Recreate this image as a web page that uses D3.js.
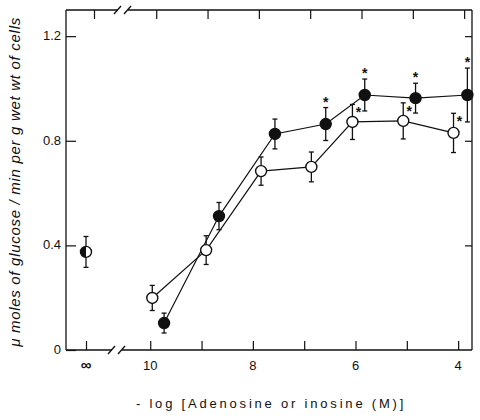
<!doctype html>
<html>
<head>
  <meta charset="utf-8">
  <title>Glucose output vs adenosine / inosine</title>
  <style>
    html, body { margin: 0; padding: 0; background: #fff; }
    svg text { font-family: "Liberation Sans", Arial, sans-serif; fill: #111; }
  </style>
</head>
<body>
  <script src="https://d3js.org/d3.v7.min.js"></script>
  <script>
    // values (x = -log[M], y = umol glucose/min/g)
    var openX = [9.96, 8.91, 7.84, 6.86, 6.06, 5.07, 4.09];
    var openY = [0.199, 0.382, 0.684, 0.70, 0.872, 0.876, 0.830];
    var openErr = [0.048, 0.055, 0.054, 0.057, 0.067, 0.069, 0.075];
    var openStar = [false, false, false, false, true, true, true];

    var filledX = [9.73, 8.66, 7.57, 6.58, 5.82, 4.83, 3.82];
    var filledY = [0.103, 0.512, 0.826, 0.864, 0.975, 0.963, 0.975];
    var filledErr = [0.038, 0.052, 0.057, 0.063, 0.061, 0.057, 0.103];
    var filledStar = [false, false, false, true, true, true, true];

    // control (no nucleoside) point
    var ctrlCat = ["∞"];
    var ctrlY = [0.375];
    var ctrlErr = [0.059];

    var xTicks = [10, 9, 8, 7, 6, 5, 4];
    var xTickLabels = ["10", "", "8", "", "6", "", "4"];
    var yTicks = [0, 0.4, 0.8, 1.2];
    var yTickLabels = ["0", "0.4", "0.8", "1.2"];

    var W = 480, H = 420;
    var mLeft = 66, mRight = 472, mTop = 10, mBottom = 350;
    var breakL = 112, breakR = 122;

    var svg = d3.select('body').append('svg')
      .attr('width', W).attr('height', H);

    var y = d3.scaleLinear().domain([0, 1.3]).range([mBottom, mTop]);
    var x = d3.scaleLinear().domain([10.55, 3.73]).range([breakR, mRight]);
    var xInf = d3.scalePoint().domain(ctrlCat).range([mLeft, mLeft + 40]).padding(0.5);

    var ink = '#111';

    // frame with axis breaks
    var frame = svg.append('g').attr('stroke', ink).attr('stroke-width', 1.3).attr('fill', 'none');
    [mBottom, mTop].forEach(function(yy) {
      var bx = (yy == mTop ? 6 : 0);
      frame.append('line').attr('x1', mLeft).attr('x2', breakL + bx).attr('y1', yy).attr('y2', yy);
      frame.append('line').attr('x1', breakR + bx).attr('x2', mRight).attr('y1', yy).attr('y2', yy);
      [breakL + bx, breakR + bx].forEach(function(b) {
        frame.append('line').attr('x1', b - 4).attr('x2', b + 3).attr('y1', yy + 4).attr('y2', yy - 4);
      });
    });
    frame.append('line').attr('x1', mLeft).attr('x2', mLeft).attr('y1', mTop).attr('y2', mBottom);
    frame.append('line').attr('x1', mRight).attr('x2', mRight).attr('y1', mTop).attr('y2', mBottom);

    // y axis
    var yAxis = d3.axisRight(y).tickValues(yTicks).tickSize(10).tickFormat('');
    var gy = svg.append('g').attr('transform', 'translate(' + mLeft + ',0)').call(yAxis);
    gy.select('.domain').remove();
    gy.selectAll('line').attr('stroke', ink).attr('stroke-width', 1.2);
    svg.append('g').selectAll('text').data(yTicks).join('text')
      .attr('x', mLeft - 5).attr('y', function(d) { return y(d) + 4; })
      .attr('text-anchor', 'end').attr('font-size', 13)
      .text(function(d, i) { return yTickLabels[i]; });

    var yAxisR = d3.axisLeft(y).tickValues(yTicks.slice(1)).tickSize(7).tickFormat('');
    var gyr = svg.append('g').attr('transform', 'translate(' + mRight + ',0)').call(yAxisR);
    gyr.select('.domain').remove();
    gyr.selectAll('line').attr('stroke', ink).attr('stroke-width', 1.2);

    // x axis, bottom and top ticks pointing in
    var xAxisB = d3.axisTop(x).tickValues(xTicks).tickSize(9).tickFormat('');
    var gxb = svg.append('g').attr('transform', 'translate(0,' + mBottom + ')').call(xAxisB);
    var xAxisT = d3.axisBottom(x).tickValues(xTicks).tickSize(9).tickFormat('');
    var gxt = svg.append('g').attr('transform', 'translate(6,' + mTop + ')').call(xAxisT);
    var infB = d3.axisTop(xInf).tickSize(9).tickFormat('');
    var gib = svg.append('g').attr('transform', 'translate(0,' + mBottom + ')').call(infB);
    var infT = d3.axisBottom(xInf).tickSize(9).tickFormat('');
    var git = svg.append('g').attr('transform', 'translate(8,' + mTop + ')').call(infT);
    [gxb, gxt, gib, git].forEach(function(g) {
      g.select('.domain').remove();
      g.selectAll('line').attr('stroke', ink).attr('stroke-width', 1.2);
    });

    svg.append('g').selectAll('text').data(xTicks).join('text')
      .attr('x', function(d) { return x(d); }).attr('y', mBottom + 20)
      .attr('text-anchor', 'middle').attr('font-size', 13)
      .text(function(d, i) { return xTickLabels[i]; });
    svg.append('text').attr('x', xInf(ctrlCat[0])).attr('y', mBottom + 20)
      .attr('text-anchor', 'middle').attr('font-size', 15).attr('font-weight', 'bold')
      .text(ctrlCat[0]);

    // axis titles
    svg.append('text')
      .attr('transform', 'translate(20,' + 182 + ') rotate(-90)')
      .attr('text-anchor', 'middle').attr('font-size', 15).attr('font-style', 'italic')
      .attr('letter-spacing', 0.7)
      .text('μ moles of glucose / min per g wet wt of cells');
    svg.append('text')
      .attr('x', 271).attr('y', 408).attr('text-anchor', 'middle')
      .attr('font-size', 13).attr('letter-spacing', 2.8)
      .text('- log  [Adenosine or inosine (M)]');

    function rows(xs, ys, es, st) {
      return xs.map(function(v, i) { return { x: v, y: ys[i], e: es[i], star: st[i] }; });
    }
    var openData = rows(openX, openY, openErr, openStar);
    var filledData = rows(filledX, filledY, filledErr, filledStar);

    var line = d3.line().x(function(d) { return x(d.x); }).y(function(d) { return y(d.y); });
    [openData, filledData].forEach(function(data) {
      svg.append('path').datum(data).attr('d', line)
        .attr('fill', 'none').attr('stroke', ink).attr('stroke-width', 1.2);
    });

    function errorBars(data, px) {
      var g = svg.append('g').attr('stroke', ink).attr('stroke-width', 1.3);
      data.forEach(function(d) {
        var cx = px(d), y0 = y(d.y - d.e), y1 = y(d.y + d.e);
        g.append('line').attr('x1', cx).attr('x2', cx).attr('y1', y0).attr('y2', y1);
        g.append('line').attr('x1', cx - 2.5).attr('x2', cx + 2.5).attr('y1', y0).attr('y2', y0);
        g.append('line').attr('x1', cx - 2.5).attr('x2', cx + 2.5).attr('y1', y1).attr('y2', y1);
      });
    }
    var pxLin = function(d) { return x(d.x); };
    errorBars(openData, pxLin);
    errorBars(filledData, pxLin);

    var ctrlData = [{ c: ctrlCat[0], y: ctrlY[0], e: ctrlErr[0] }];
    errorBars(ctrlData, function(d) { return xInf(d.c); });

    svg.append('g').selectAll('circle').data(openData).join('circle')
      .attr('cx', pxLin).attr('cy', function(d) { return y(d.y); }).attr('r', 5.5)
      .attr('fill', '#fff').attr('stroke', ink).attr('stroke-width', 1.4);
    svg.append('g').selectAll('circle').data(filledData).join('circle')
      .attr('cx', pxLin).attr('cy', function(d) { return y(d.y); }).attr('r', 5.5)
      .attr('fill', ink).attr('stroke', ink).attr('stroke-width', 1.4);

    // control point: half filled circle
    ctrlData.forEach(function(d) {
      var cx = xInf(d.c), cy = y(d.y);
      svg.append('circle').attr('cx', cx).attr('cy', cy).attr('r', 5.5)
        .attr('fill', '#fff').attr('stroke', ink).attr('stroke-width', 1.4);
      svg.append('path')
        .attr('d', d3.arc()({ innerRadius: 0, outerRadius: 5.5, startAngle: Math.PI, endAngle: 2 * Math.PI }))
        .attr('transform', 'translate(' + cx + ',' + cy + ')').attr('fill', ink);
    });

    // significance stars
    svg.append('g').selectAll('text').data(filledData.filter(function(d) { return d.star; })).join('text')
      .attr('x', pxLin).attr('y', function(d) { return y(d.y + d.e) - 1; })
      .attr('text-anchor', 'middle').attr('font-size', 14).attr('font-weight', 'bold')
      .text('*');
    svg.append('g').selectAll('text').data(openData.filter(function(d) { return d.star; })).join('text')
      .attr('x', function(d) { return x(d.x) + 6; }).attr('y', function(d) { return y(d.y + d.e) + 13; })
      .attr('text-anchor', 'middle').attr('font-size', 14).attr('font-weight', 'bold')
      .text('*');
  </script>
</body>
</html>
